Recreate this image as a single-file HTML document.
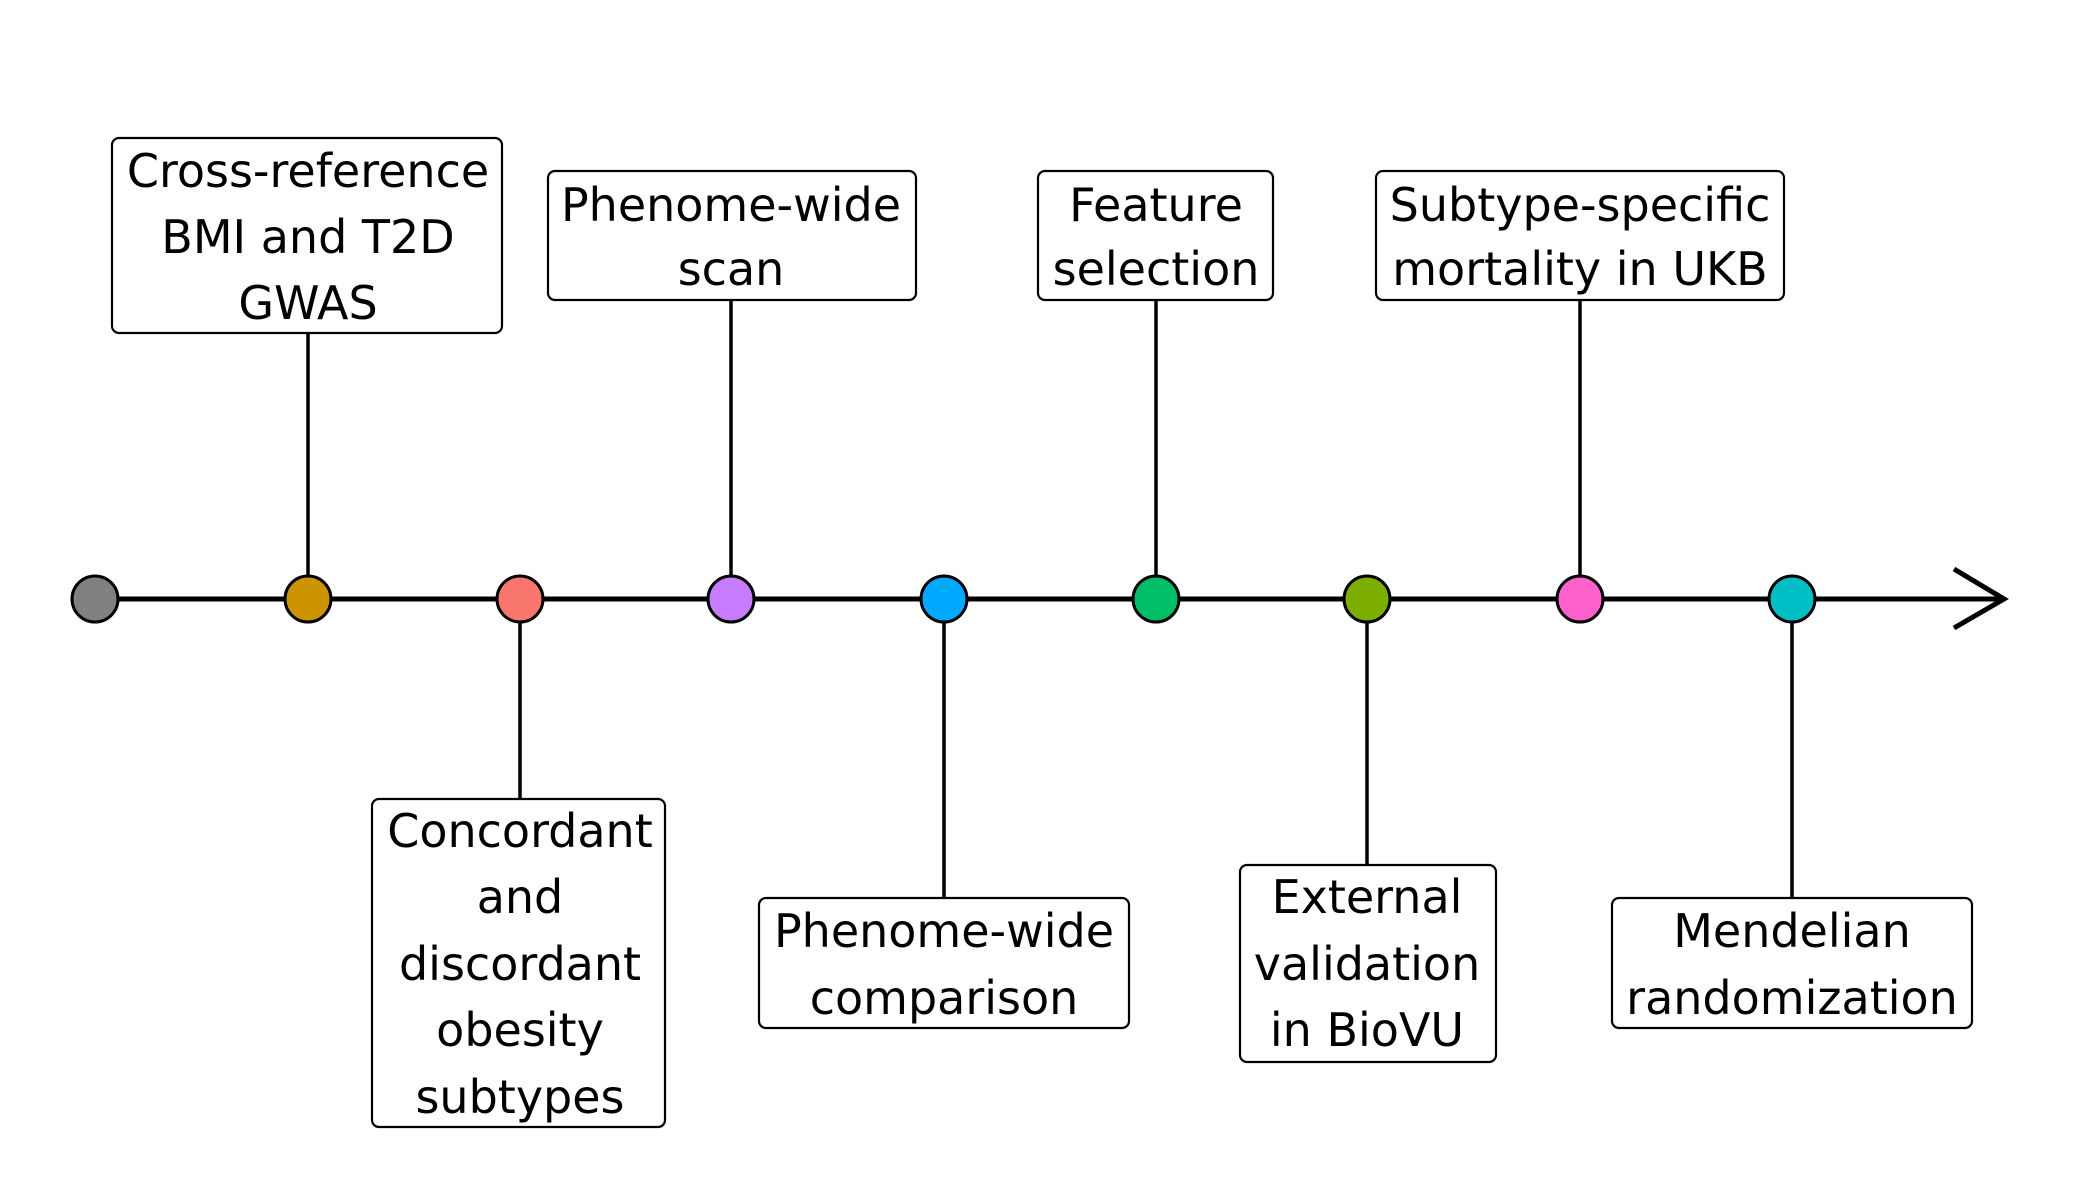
<!DOCTYPE html>
<html><head><meta charset="utf-8"><style>
html,body{margin:0;padding:0;background:#fff;}
svg{display:block;}
text{font-family:"DejaVu Sans","Liberation Sans",sans-serif;font-size:46px;fill:#000;text-anchor:middle;dominant-baseline:central;}
rect{fill:#fff;stroke:#000;stroke-width:2.2;}
</style></head><body>
<svg width="2100" height="1200" viewBox="0 0 2100 1200" xmlns="http://www.w3.org/2000/svg">
<g stroke="#000" stroke-width="3.5">
<line x1="308" y1="333" x2="308" y2="599"/>
<line x1="731" y1="300" x2="731" y2="599"/>
<line x1="1156" y1="300" x2="1156" y2="599"/>
<line x1="1580" y1="300" x2="1580" y2="599"/>
<line x1="520" y1="599" x2="520" y2="799"/>
<line x1="944" y1="599" x2="944" y2="898"/>
<line x1="1367" y1="599" x2="1367" y2="865"/>
<line x1="1792" y1="599" x2="1792" y2="898"/>
</g>
<line x1="95" y1="599" x2="2002" y2="599" stroke="#000" stroke-width="5"/>
<polyline points="1954,569 2004,599 1954,628" fill="none" stroke="#000" stroke-width="5"/>
<g stroke="#000" stroke-width="3">
<circle cx="95" cy="599" r="23" fill="#808080"/>
<circle cx="308" cy="599" r="23" fill="#cc9500"/>
<circle cx="520" cy="599" r="23" fill="#f8766d"/>
<circle cx="731" cy="599" r="23" fill="#c77cff"/>
<circle cx="944" cy="599" r="23" fill="#00a9ff"/>
<circle cx="1156" cy="599" r="23" fill="#00be67"/>
<circle cx="1367" cy="599" r="23" fill="#7cae00"/>
<circle cx="1580" cy="599" r="23" fill="#ff61cc"/>
<circle cx="1792" cy="599" r="23" fill="#00bfc4"/>
</g>
<rect x="112" y="138" width="390" height="195" rx="7"/>
<text x="308" y="171">Cross-reference</text><text x="308" y="237">BMI and T2D</text><text x="308" y="303">GWAS</text>
<rect x="548" y="171" width="368" height="129" rx="7"/>
<text x="731" y="205">Phenome-wide</text><text x="731" y="269">scan</text>
<rect x="1038" y="171" width="235" height="129" rx="7"/>
<text x="1156" y="205">Feature</text><text x="1156" y="269">selection</text>
<rect x="1376" y="171" width="408" height="129" rx="7"/>
<text x="1580" y="205">Subtype-specific</text><text x="1580" y="269">mortality in UKB</text>
<rect x="372" y="799" width="293" height="328" rx="7"/>
<text x="520" y="831">Concordant</text><text x="520" y="897">and</text><text x="520" y="964">discordant</text><text x="520" y="1030">obesity</text><text x="520" y="1097">subtypes</text>
<rect x="759" y="898" width="370" height="130" rx="7"/>
<text x="944" y="931">Phenome-wide</text><text x="944" y="998">comparison</text>
<rect x="1240" y="865" width="256" height="197" rx="7"/>
<text x="1367" y="897">External</text><text x="1367" y="964">validation</text><text x="1367" y="1030">in BioVU</text>
<rect x="1612" y="898" width="360" height="130" rx="7"/>
<text x="1792" y="931">Mendelian</text><text x="1792" y="998">randomization</text>
</svg>
</body></html>
